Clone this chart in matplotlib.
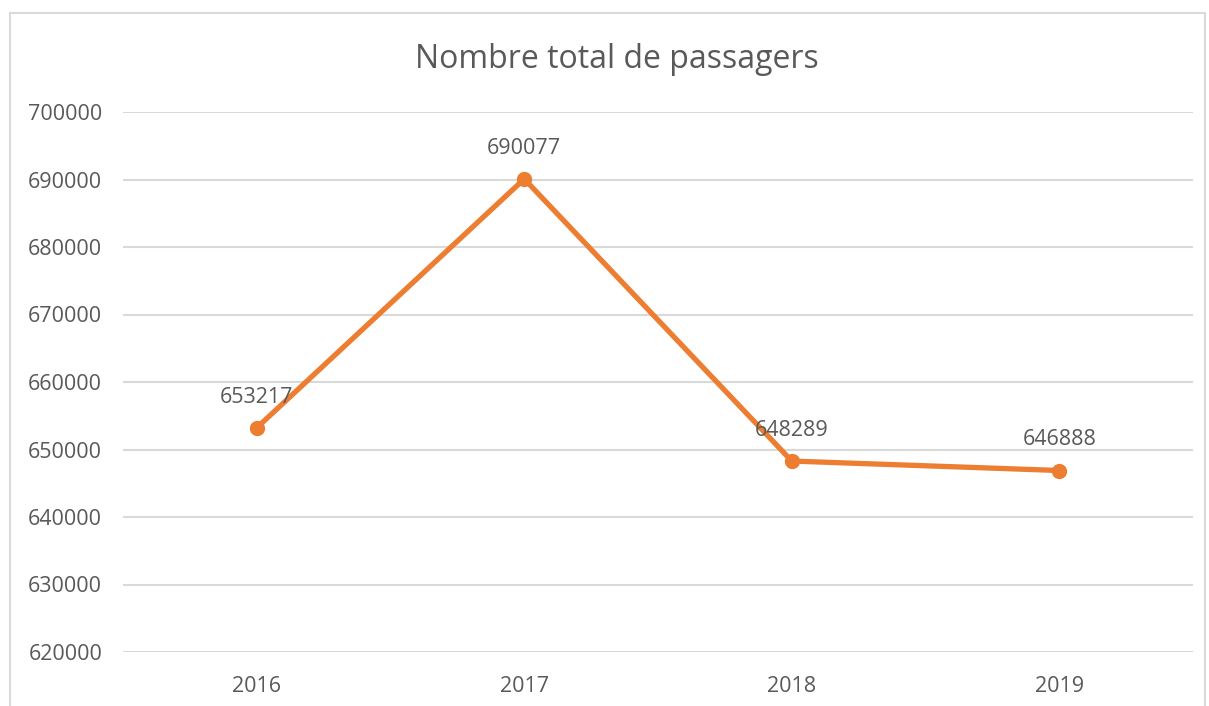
import matplotlib.pyplot as plt
from matplotlib.patches import Rectangle

annees = ['2016', '2017', '2018', '2019']
passagers = [653217, 690077, 648289, 646888]
graduations = [620000, 630000, 640000, 650000, 660000, 670000, 680000, 690000, 700000]

plt.rcParams['font.family'] = ['Open Sans', 'DejaVu Sans']
gris = '#595959'

fig = plt.figure(figsize=(12.09, 7.06), dpi=100)
ax = fig.add_axes([123/1209, 1 - 652/706, 1070/1209, 540/706])

# cadre du graphique
fig.patches.append(Rectangle((10/1209, -0.05), 1195/1209, 1.05 - 13/706,
                             transform=fig.transFigure, fill=False,
                             edgecolor='#d9d9d9', linewidth=1.5))

x = range(len(annees))
ax.plot(x, passagers, '-o', color='#ED7D31', linewidth=3.8, markersize=10)

for i, v in enumerate(passagers):
    ax.annotate(str(v), (i, v), xytext=(0, 22), textcoords='offset points',
                ha='center', va='center', fontsize=15.5, color=gris)

ax.set_xlim(-0.5, len(annees) - 0.5)
ax.set_ylim(620000, 700000)
ax.set_xticks(list(x))
ax.set_xticklabels(annees)
ax.set_yticks(graduations)
ax.set_yticklabels([str(g) for g in graduations])
ax.tick_params(length=0, labelsize=15.5, labelcolor=gris)
ax.tick_params(axis='y', pad=15)
ax.tick_params(axis='x', pad=17)
ax.grid(axis='y', color='#d9d9d9', linewidth=1.5)
ax.set_axisbelow(True)
for s in ax.spines.values():
    s.set_visible(False)

fig.text(617/1209, 1 - 59/706, 'Nombre total de passagers', ha='center', va='center',
         fontsize=23, color=gris)

plt.savefig('out.png', dpi=100)
